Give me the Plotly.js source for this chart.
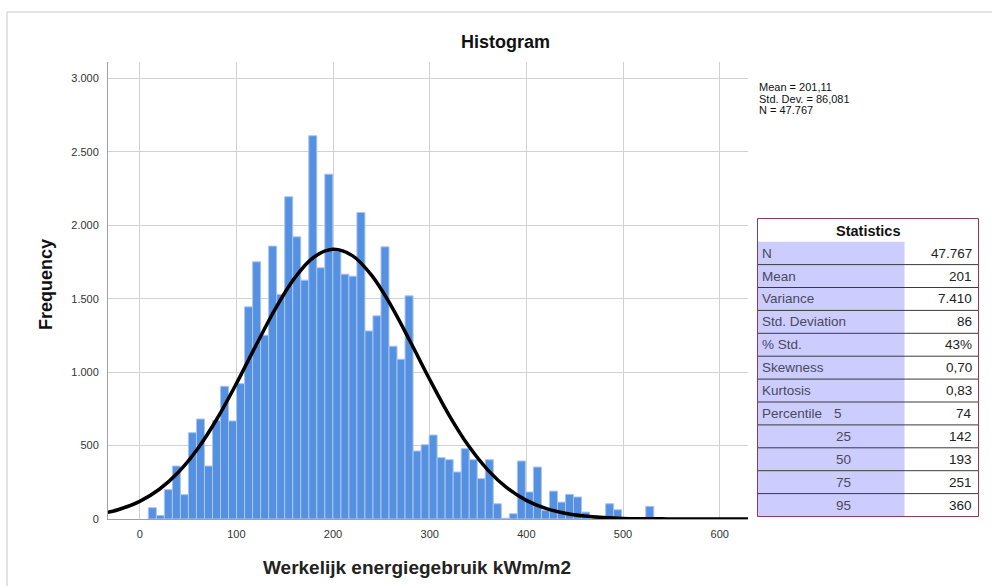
<!DOCTYPE html>
<html>
<head>
<meta charset="utf-8">
<script src="https://cdn.plot.ly/plotly-3.0.1.min.js"></script>
<style>html,body{margin:0;padding:0;background:#fff;}#chart{width:992px;height:586px;}</style>
</head>
<body>
<div id="chart"></div>
<script>
// ---- data ----
const BIN_START = 8.9;
const BIN_WIDTH = 8.3;
const binCounts = [77, 24, 200, 361, 166, 588, 681, 361, 670, 904,
  668, 922, 1445, 1752, 1252, 1859, 1530, 2195, 1922, 1627,
  2611, 1711, 2349, 1825, 1668, 1654, 2088, 1281, 1384, 1854,
  1177, 1088, 1520, 463, 506, 572, 418, 404, 320, 479,
  404, 275, 404, 104, 5, 36, 395, 184, 354, 59,
  190, 115, 168, 150, 47, 0, 0, 104, 63, 0,
  0, 0, 86];
const curveX = [-33, -20, 0, 20, 40, 60, 80, 100, 120, 140, 160, 180, 200, 220, 240, 260, 280, 300, 320, 340, 360, 380, 400, 420, 440, 460, 480, 500, 520, 540, 560, 600, 630];
const curveY = [45, 68, 120, 201, 319, 479, 683, 922, 1179, 1428, 1639, 1783, 1837, 1794, 1659, 1454, 1207, 950, 708, 500, 335, 212, 127, 72, 39, 20, 10, 4, 2, 1, 0, 0, 0];
const xTickVals = [0, 100, 200, 300, 400, 500, 600];
const summaryLines = ['Mean = 201,11', 'Std. Dev. = 86,081', 'N = 47.767'];
const statLabels = ['N', 'Mean', 'Variance', 'Std. Deviation', '% Std.', 'Skewness', 'Kurtosis', 'Percentile', '', '', '', ''];
const statSub = ['', '', '', '', '', '', '', '5', '25', '50', '75', '95'];
const statValues = ['47.767', '201', '7.410', '86', '43%', '0,70', '0,83', '74', '142', '193', '251', '360'];

// ---- geometry ----
const PL = 108, PR = 748, PT = 62, PB = 519;
const W = PR - PL, H = PB - PT;
const px = X => (X - PL) / W;
const py = Y => (PB - Y) / H;

const binCenters = binCounts.map((_, i) => BIN_START + BIN_WIDTH * (i + 0.5));

const FONT = 'Liberation Sans, Arial, sans-serif';

const traces = [
  {
    type: 'bar', x: binCenters, y: binCounts, width: BIN_WIDTH,
    marker: {color: '#5690e0', line: {color: '#a8c6f2', width: 1}},
    hoverinfo: 'skip'
  },
  {
    type: 'scatter', mode: 'lines', x: curveX, y: curveY,
    line: {color: '#000', width: 3.5, shape: 'spline', smoothing: 1},
    hoverinfo: 'skip'
  }
];

const shapes = [];
const annotations = [];

// outer frame
shapes.push({type: 'rect', xref: 'paper', yref: 'paper', x0: px(7), x1: px(1010), y0: py(12), y1: py(600),
  line: {color: '#c6c6c6', width: 1}, fillcolor: 'rgba(0,0,0,0)', layer: 'below'});

// title and axis titles
annotations.push({text: '<b>Histogram</b>', xref: 'paper', yref: 'paper', x: px(505), y: py(42),
  xanchor: 'center', yanchor: 'middle', showarrow: false, font: {family: FONT, size: 18, color: '#111'}});
annotations.push({text: '<b>Frequency</b>', xref: 'paper', yref: 'paper', x: px(46), y: py(285), textangle: -90,
  xanchor: 'center', yanchor: 'middle', showarrow: false, font: {family: FONT, size: 18, color: '#111'}});
annotations.push({text: '<b>Werkelijk energiegebruik kWm/m2</b>', xref: 'paper', yref: 'paper', x: px(417), y: py(567),
  xanchor: 'center', yanchor: 'middle', showarrow: false, font: {family: FONT, size: 19, color: '#222'}});

// summary text
summaryLines.forEach((t, i) => {
  annotations.push({text: t, xref: 'paper', yref: 'paper', x: px(757), y: py(87 + i * 11.5),
    xanchor: 'left', yanchor: 'middle', showarrow: false, font: {family: FONT, size: 11, color: '#111'}});
});

// statistics table
const TL = 757.5, TR = 978.5, TT = 218.5, TB = 516.5, HEAD_B = 241.7, COL = 904.5;
const rowH = (TB - HEAD_B) / statValues.length;
shapes.push({type: 'rect', xref: 'paper', yref: 'paper', x0: px(TL), x1: px(COL), y0: py(HEAD_B), y1: py(TB),
  line: {width: 0}, fillcolor: '#ccccff'});
for (let k = 1; k < statValues.length; k++) {
  const yy = HEAD_B + k * rowH;
  shapes.push({type: 'line', xref: 'paper', yref: 'paper', x0: px(TL), x1: px(TR), y0: py(yy), y1: py(yy),
    line: {color: '#3a3a3a', width: 1}});
}
shapes.push({type: 'rect', xref: 'paper', yref: 'paper', x0: px(TL), x1: px(TR), y0: py(TT), y1: py(TB),
  line: {color: '#8e3a5c', width: 1}, fillcolor: 'rgba(0,0,0,0)'});
annotations.push({text: '<b>Statistics</b>', xref: 'paper', yref: 'paper', x: px(868), y: py(231),
  xanchor: 'center', yanchor: 'middle', showarrow: false, font: {family: FONT, size: 14.5, color: '#111'}});
statValues.forEach((v, k) => {
  const yc = HEAD_B + (k + 0.5) * rowH;
  if (statLabels[k]) {
    annotations.push({text: statLabels[k], xref: 'paper', yref: 'paper', x: px(760), y: py(yc),
      xanchor: 'left', yanchor: 'middle', showarrow: false, font: {family: FONT, size: 13.5, color: '#4a4a5a'}});
  }
  if (statSub[k]) {
    annotations.push({text: statSub[k], xref: 'paper', yref: 'paper', x: px(k === 7 ? 838 : 843), y: py(yc),
      xanchor: 'center', yanchor: 'middle', showarrow: false, font: {family: FONT, size: 13.5, color: '#4a4a5a'}});
  }
  annotations.push({text: v, xref: 'paper', yref: 'paper', x: px(974), y: py(yc),
    xanchor: 'right', yanchor: 'middle', showarrow: false, font: {family: FONT, size: 13.5, color: '#222'}});
});

const layout = {
  width: 992, height: 586,
  margin: {l: PL, r: 992 - PR, t: PT, b: 586 - PB, pad: 0},
  paper_bgcolor: '#fff', plot_bgcolor: '#fff',
  separators: ',.',
  showlegend: false,
  bargap: 0,
  font: {family: FONT, size: 11, color: '#333'},
  xaxis: {
    range: [-32.8, 629.3], tickvals: xTickVals, ticktext: xTickVals.map(String),
    showgrid: true, gridcolor: '#d2d2d2', gridwidth: 1, zeroline: false,
    showline: true, linecolor: '#a0a0a0', linewidth: 1,
    ticks: 'outside', ticklen: 5, tickcolor: 'rgba(0,0,0,0)',
    tickfont: {family: FONT, size: 11, color: '#333'}
  },
  yaxis: {
    range: [0, 3113], dtick: 500, tick0: 0, separatethousands: true, tickformat: ',d',
    showgrid: true, gridcolor: '#d2d2d2', gridwidth: 1, zeroline: false,
    showline: true, linecolor: '#a0a0a0', linewidth: 1,
    ticks: 'outside', ticklen: 6, tickcolor: 'rgba(0,0,0,0)',
    tickfont: {family: FONT, size: 11, color: '#333'}
  },
  shapes: shapes,
  annotations: annotations
};

Plotly.newPlot('chart', traces, layout, {displayModeBar: false, staticPlot: true});
</script>
</body>
</html>
